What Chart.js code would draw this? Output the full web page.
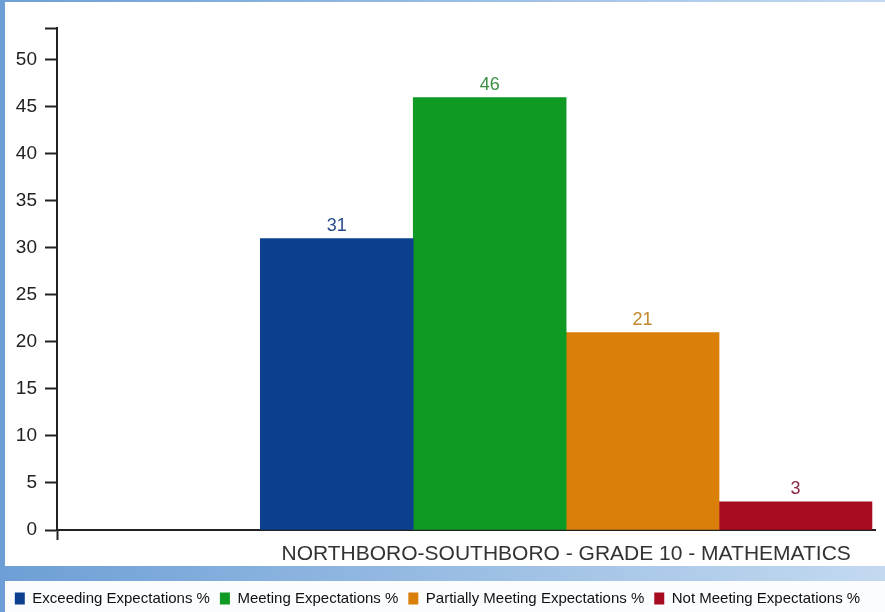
<!DOCTYPE html>
<html lang="en">
<head>
  <meta charset="UTF-8" />
  <title>Northboro-Southboro - Grade 10 - Mathematics</title>
  <script src="https://cdn.jsdelivr.net/npm/chart.js"></script>
  <style>
    * {
      box-sizing: border-box;
      margin: 0;
      padding: 0;
    }

    body {
      width: 885px;
      height: 612px;
      overflow: hidden;
      background: linear-gradient(to right, #6d9fd6, #c3d9f0);
      position: relative;
    }

    .panel {
      position: absolute;
      left: 5px;
      top: 2px;
      width: 880px;
      height: 564px;
      background: #fff;
    }

    .legend-strip {
      position: absolute;
      left: 5px;
      top: 581px;
      width: 880px;
      height: 31px;
      background: #fbfcfe;
    }

    .chart-box {
      position: absolute;
      left: 0;
      top: 0;
      width: 885px;
      height: 612px;
    }
  </style>
</head>
<body>

<div class="panel"></div>
<div class="legend-strip"></div>
<div class="chart-box">
  <canvas id="scoreChart"></canvas>
</div>

<script>
  const groupLabel = "NORTHBORO-SOUTHBORO - GRADE 10 - MATHEMATICS";
  const categories = [
    "Exceeding Expectations %",
    "Meeting Expectations %",
    "Partially Meeting Expectations %",
    "Not Meeting Expectations %"
  ];
  const values = [31, 46, 21, 3];
  const barColors = ["#0c3f8d", "#0f9a23", "#db7f0b", "#a60b1f"];
  const valueColors = ["#2b4c8c", "#3b8f45", "#c4872c", "#8c2a45"];
  const yTicks = [0, 5, 10, 15, 20, 25, 30, 35, 40, 45, 50];

  const mainFont = "'Liberation Sans', Arial, sans-serif";
  const axisColor = "#222";
  const xMin = -0.83;
  const xMax = 4.52;

  // numbers above each bar, same hue as the bar
  const valueLabels = {
    id: "valueLabels",
    afterDatasetsDraw(chart) {
      const ctx = chart.ctx;
      ctx.save();
      ctx.font = "18px " + mainFont;
      ctx.textAlign = "center";
      ctx.textBaseline = "bottom";
      chart.data.datasets.forEach((ds, i) => {
        const meta = chart.getDatasetMeta(i);
        meta.data.forEach((bar, j) => {
          ctx.fillStyle = valueColors[i];
          ctx.fillText(String(ds.data[j].y), bar.x, bar.y - 4);
        });
      });
      ctx.restore();
    }
  };

  const ctx = document.getElementById("scoreChart").getContext("2d");

  new Chart(ctx, {
    type: "bar",
    data: {
      datasets: categories.map((name, i) => ({
        label: name,
        data: [{ x: i + 1, y: values[i] }],
        backgroundColor: barColors[i],
        borderWidth: 0,
        grouped: false,
        categoryPercentage: 1,
        barPercentage: 1
      }))
    },
    options: {
      responsive: true,
      maintainAspectRatio: false,
      animation: false,
      layout: {
        padding: { top: 28, right: 10, bottom: -4, left: 0 }
      },
      scales: {
        x: {
          type: "linear",
          weight: 0,
          offset: false,
          min: xMin,
          max: xMax,
          // only the little tick under the origin
          afterBuildTicks: (scale) => {
            scale.ticks = [{ value: scale.min }];
          },
          afterFit: (scale) => {
            scale.height = 10;
          },
          ticks: {
            display: false
          },
          grid: {
            offset: false,
            drawOnChartArea: false,
            tickLength: 10,
            tickWidth: 2,
            tickColor: axisColor
          },
          border: { color: axisColor, width: 2 }
        },
        xl: {
          type: "linear",
          axis: "x",
          position: "bottom",
          weight: 1,
          offset: false,
          min: xMin,
          max: xMax,
          // group label centred under the four bars
          afterBuildTicks: (scale) => {
            scale.ticks = [{ value: 2.5 }];
          },
          afterFit: (scale) => {
            scale.height = 41;
          },
          ticks: {
            autoSkip: false,
            maxRotation: 0,
            padding: 2,
            color: "#333",
            font: { family: mainFont, size: 21 },
            callback: () => groupLabel
          },
          grid: {
            offset: false,
            drawOnChartArea: false,
            drawTicks: false
          },
          border: { display: false }
        },
        y: {
          min: 0,
          max: 53.4,
          afterBuildTicks: (scale) => {
            scale.ticks = yTicks.map((v) => ({ value: v })).concat([{ value: scale.max }]);
          },
          afterFit: (scale) => {
            scale.width = 57;
          },
          ticks: {
            padding: 8,
            color: axisColor,
            font: { family: mainFont, size: 19 },
            callback: (v) => (yTicks.includes(v) ? v : "")
          },
          grid: {
            drawOnChartArea: false,
            tickLength: 12,
            tickWidth: 2,
            tickColor: axisColor
          },
          border: { color: axisColor, width: 2 }
        }
      },
      plugins: {
        legend: {
          position: "bottom",
          labels: {
            boxWidth: 10,
            boxHeight: 12,
            padding: 10,
            color: "#111",
            font: { family: mainFont, size: 15 }
          }
        },
        tooltip: { enabled: false }
      }
    },
    plugins: [valueLabels]
  });
</script>

</body>
</html>
